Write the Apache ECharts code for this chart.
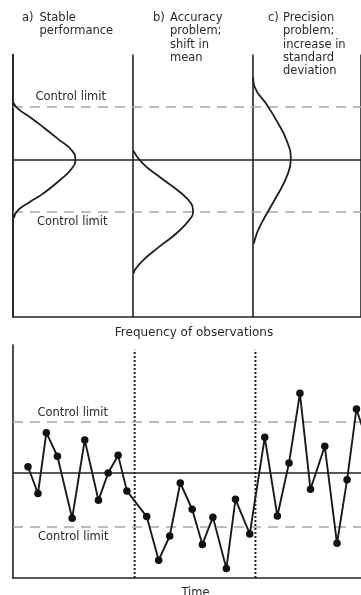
<!DOCTYPE html>
<html><head><meta charset="utf-8">
<script src="https://cdn.jsdelivr.net/npm/echarts@6/dist/echarts.min.js"></script>
<style>html,body{margin:0;padding:0;background:#fff}#c{width:361px;height:595px}</style>
</head><body><div id="c"></div>
<script>
// ---- Top panel: frequency distributions (0 = target, +/-1 = control limits) ----
const panelOffsets = [0, 1, 2];
const panelTags = ['a)', 'b)', 'c)'];
const panelTitles = ['Stable\nperformance', 'Accuracy\nproblem;\nshift in\nmean', 'Precision\nproblem;\nincrease in\nstandard\ndeviation'];

const curveAValue = [1.09, 0.97, 0.81, 0.62, 0.365, 0.175, 0, -0.17, -0.395, -0.65, -0.81, -0.97, -1.12];
const curveAFreq  = [0, 0.04, 0.14, 0.25, 0.39, 0.49, 0.52, 0.49, 0.39, 0.25, 0.14, 0.04, 0.005];
const curveBValue = [0.175, -0.08, -0.33, -0.62, -0.84, -0.97, -1.12, -1.41, -1.66, -1.92, -2.11, -2.17];
const curveBFreq  = [0, 0.083, 0.22, 0.39, 0.485, 0.5, 0.48, 0.36, 0.22, 0.083, 0.014, 0.006];
const curveCValue = [1.57, 1.38, 1.06, 0.745, 0.365, 0, -0.33, -0.71, -1.09, -1.35, -1.54, -1.6];
const curveCFreq  = [0, 0.014, 0.11, 0.195, 0.28, 0.315, 0.28, 0.195, 0.10, 0.042, 0.014, 0.008];

const topCenter = 0;
const topLimits = [1, -1];

// ---- Bottom panel: control chart over time ----
const timePoints = [1.25, 2.08, 2.78, 3.70, 4.93, 5.98, 7.12, 7.93, 8.76, 9.49,
  11.14, 12.14, 13.06, 13.94, 14.93, 15.78, 16.66, 17.78, 18.54, 19.73,
  20.98, 22.03, 23.0, 23.91, 24.79, 25.98, 27.0, 27.84, 28.62, 29.73];
const observations = [0.12, -0.39, 0.77, 0.32, -0.86, 0.63, -0.52, 0.0, 0.34, -0.34,
  -0.83, -1.66, -1.2, -0.19, -0.69, -1.36, -0.84, -1.82, -0.5, -1.16,
  0.68, -0.82, 0.19, 1.52, -0.31, 0.51, -1.34, -0.13, 1.22, 0.44];
const bottomCenter = 0;
const bottomLimits = [0.97, -1.02];
const phaseBoundaries = [10.14, 20.2];
const boundaryRange = [-2, 2.35];

const FONT = '"DejaVu Sans", "Liberation Sans", sans-serif';
const TXT = '#2a2a2a';

function curve(offset, freq, value) {
  return freq.map((f, i) => [offset + f, value[i]]);
}
const curves = [[curveAFreq, curveAValue], [curveBFreq, curveBValue], [curveCFreq, curveCValue]];

const limitStyle = { color: '#a8a8a8', width: 1.5, type: [10, 7] };
const centerStyle = { color: '#222', width: 1.5, type: 'solid' };

function refLines(center, limits) {
  return {
    silent: true, symbol: 'none', animation: false, label: { show: false },
    data: [
      { yAxis: center, lineStyle: centerStyle },
      { yAxis: limits[0], lineStyle: limitStyle },
      { yAxis: limits[1], lineStyle: limitStyle }
    ]
  };
}

const hiddenAxis = {
  axisTick: { show: false }, axisLabel: { show: false }
};

const series = [];
curves.forEach((c, k) => {
  series.push({
    type: 'line', xAxisIndex: 0, yAxisIndex: 0,
    data: curve(panelOffsets[k], c[0], c[1]),
    smooth: 0.5, showSymbol: false, z: 5,
    lineStyle: { color: '#1e1e1e', width: 1.8 },
    markLine: k === 0 ? refLines(topCenter, topLimits) : undefined
  });
});
series.push({
  type: 'line', xAxisIndex: 1, yAxisIndex: 1,
  data: timePoints.map((t, i) => [t, observations[i]]),
  symbol: 'circle', symbolSize: 7.5, showSymbol: true, z: 6,
  itemStyle: { color: '#111' },
  lineStyle: { color: '#1a1a1a', width: 1.9 },
  markLine: refLines(bottomCenter, bottomLimits)
});
phaseBoundaries.forEach(b => {
  series.push({
    type: 'line', xAxisIndex: 1, yAxisIndex: 1,
    data: [[b, boundaryRange[0]], [b, boundaryRange[1]]],
    showSymbol: false, silent: true, z: 3,
    lineStyle: { color: '#222', width: 2, type: [2, 2] }
  });
});

const graphics = [];
panelTags.forEach((tag, k) => {
  const tagX = [22, 153, 268][k];
  const titleX = [39.5, 170, 283][k];
  graphics.push({ type: 'text', x: tagX, y: 11.5, style: { text: tag, font: '11.5px ' + FONT, fill: TXT, textVerticalAlign: 'top', lineHeight: 13.3 } });
  graphics.push({ type: 'text', x: titleX, y: 11.5, style: { text: panelTitles[k], font: '11.5px ' + FONT, fill: TXT, textVerticalAlign: 'top', lineHeight: 13.3 } });
});
const cl = [[35.5, 97], [37, 222], [37.5, 412.7], [38, 536.7]];
cl.forEach(p => graphics.push({ type: 'text', x: p[0], y: p[1], style: { text: 'Control limit', font: '11.5px ' + FONT, fill: TXT, textVerticalAlign: 'middle' } }));
graphics.push({ type: 'text', x: 194, y: 333, style: { text: 'Frequency of observations', font: '12px ' + FONT, fill: TXT, textAlign: 'center', textVerticalAlign: 'middle' } });
graphics.push({ type: 'text', x: 195.5, y: 593, style: { text: 'Time', font: '11.5px ' + FONT, fill: TXT, textAlign: 'center', textVerticalAlign: 'middle' } });

const chart = echarts.init(document.getElementById('c'), null, { renderer: 'canvas' });
chart.setOption({
  animation: false,
  backgroundColor: '#fff',
  grid: [
    { left: 13, top: 54.5, right: 0, height: 262.5 },
    { left: 13, top: 345, right: 0, height: 233 }
  ],
  xAxis: [
    Object.assign({ type: 'value', gridIndex: 0, min: 0, max: 2.9, interval: 1,
      axisLine: { show: true, onZero: false, lineStyle: { color: '#222', width: 1.6 } },
      splitLine: { show: true, lineStyle: { color: '#222', width: 1.6 } } }, hiddenAxis),
    Object.assign({ type: 'value', gridIndex: 1, min: 0, max: 29,
      axisLine: { show: true, onZero: false, lineStyle: { color: '#222', width: 1.6 } },
      splitLine: { show: false } }, hiddenAxis)
  ],
  yAxis: [
    Object.assign({ type: 'value', gridIndex: 0, min: -3, max: 2,
      axisLine: { show: true, onZero: false, lineStyle: { color: '#222', width: 1.6 } },
      splitLine: { show: false } }, hiddenAxis),
    Object.assign({ type: 'value', gridIndex: 1, min: -2, max: 2.44,
      axisLine: { show: true, onZero: false, lineStyle: { color: '#222', width: 1.6 } },
      splitLine: { show: false } }, hiddenAxis)
  ],
  series: series,
  graphic: graphics
});
</script></body></html>
